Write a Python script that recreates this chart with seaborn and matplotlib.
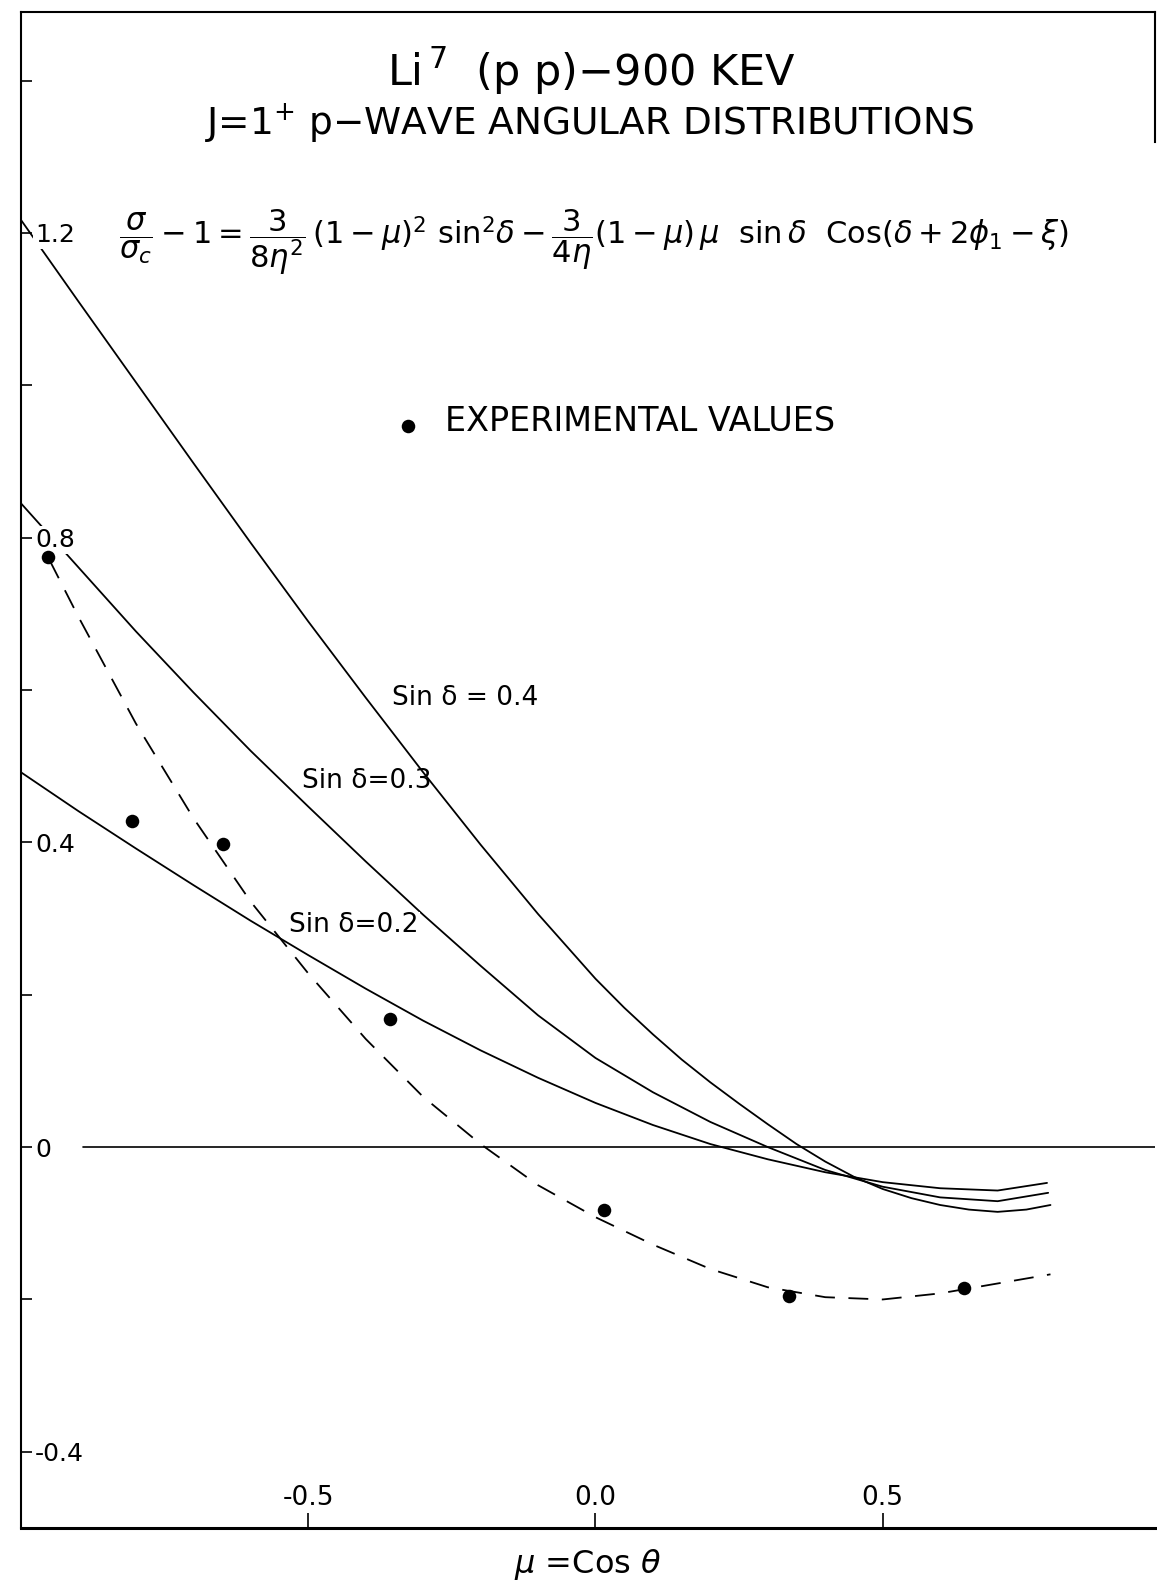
import matplotlib
matplotlib.use("Agg")
import matplotlib.pyplot as plt
import seaborn as sns

# --- calculated p-wave curves (mu = cos theta, sigma/sigma_c - 1) ---
mu_s04 = [-1.0, -0.9, -0.8, -0.7, -0.6, -0.5, -0.4, -0.3, -0.2, -0.1, 0.0,
          0.05, 0.1, 0.15, 0.2, 0.25, 0.3, 0.35, 0.4, 0.45, 0.5, 0.55, 0.6,
          0.65, 0.7, 0.75, 0.792]
val_s04 = [1.217, 1.110, 1.004, 0.898, 0.793, 0.690, 0.590, 0.492, 0.397,
           0.306, 0.221, 0.183, 0.148, 0.115, 0.085, 0.057, 0.030, 0.004,
           -0.019, -0.039, -0.055, -0.067, -0.076, -0.082, -0.085, -0.082,
           -0.076]

mu_s03 = [-1.0, -0.9, -0.8, -0.7, -0.6, -0.5, -0.4, -0.3, -0.2, -0.1, 0.0,
          0.1, 0.2, 0.3, 0.4, 0.5, 0.6, 0.7, 0.788]
val_s03 = [0.845, 0.761, 0.677, 0.597, 0.520, 0.447, 0.375, 0.305, 0.238,
           0.173, 0.117, 0.072, 0.033, 0.000, -0.030, -0.052, -0.066, -0.071,
           -0.060]

mu_s02 = [-1.0, -0.9, -0.8, -0.7, -0.6, -0.5, -0.4, -0.3, -0.2, -0.1, 0.0,
          0.1, 0.2, 0.3, 0.4, 0.5, 0.6, 0.7, 0.786]
val_s02 = [0.492, 0.441, 0.392, 0.344, 0.297, 0.252, 0.208, 0.166, 0.127,
           0.091, 0.058, 0.029, 0.004, -0.016, -0.033, -0.046, -0.054, -0.057,
           -0.047]

# --- smooth curve through the measurements (dashed) ---
mu_fit = [-0.95, -0.9, -0.8, -0.7, -0.6, -0.5, -0.4, -0.3, -0.2, -0.1, 0.0,
          0.1, 0.2, 0.3, 0.4, 0.5, 0.6, 0.7, 0.792]
val_fit = [0.770, 0.696, 0.556, 0.432, 0.322, 0.228, 0.142, 0.066, 0.004,
           -0.050, -0.092, -0.128, -0.160, -0.184, -0.197, -0.200, -0.192,
           -0.179, -0.167]

# --- experimental values ---
exp_mu = [-0.953, -0.807, -0.648, -0.358, 0.014, 0.337, 0.641]
exp_val = [0.774, 0.428, 0.398, 0.168, -0.083, -0.196, -0.185]

curve_labels = ["Sin δ = 0.4", "Sin δ=0.3", "Sin δ=0.2"]

x_ticks = [-0.5, 0.0, 0.5]
x_tick_labels = ["-0.5", "0.0", "0.5"]
y_ticks = [-0.4, -0.2, 0.0, 0.2, 0.4, 0.6, 0.8, 1.0, 1.2, 1.4]
y_tick_labels = ["-0.4", "", "0", "", "0.4", "", "0.8", "", "1.2", ""]

sns.set_style("white")
plt.rcParams["font.family"] = ["DejaVu Sans"]
plt.rcParams["mathtext.fontset"] = "dejavusans"

fig = plt.figure(figsize=(11.57, 15.80), dpi=100)
ax = fig.add_axes([0.01815, 0.0329, 0.98015, 0.95951])
ax.set_xlim(-1.0, 0.974)
ax.set_ylim(-0.5, 1.49)
ax.set_axisbelow(False)

ink = "black"
for mu, val in [(mu_s04, val_s04), (mu_s03, val_s03), (mu_s02, val_s02)]:
    sns.lineplot(x=mu, y=val, ax=ax, color=ink, lw=1.3, sort=False,
                 estimator=None, zorder=2)

sns.lineplot(x=mu_fit, y=val_fit, ax=ax, color=ink, lw=1.3, sort=False,
             estimator=None, linestyle=(0, (11, 7.5)), zorder=2)

sns.scatterplot(x=exp_mu, y=exp_val, ax=ax, color=ink, s=95, edgecolor=ink,
                linewidth=0, zorder=4)

ax.axhline(0.0, xmin=0.055, color=ink, lw=1.2, zorder=1.8)

# frame: right edge only shows near the top
for side, sp in ax.spines.items():
    sp.set_color(ink)
    sp.set_visible(True)
    sp.set_linewidth(2.2 if side == "bottom" else 1.5)
ax.spines["right"].set_bounds(1.32, 1.49)

ax.set_xticks(x_ticks)
ax.set_xticklabels(x_tick_labels)
ax.set_yticks(y_ticks)
ax.set_yticklabels(y_tick_labels)
ax.tick_params(axis="x", bottom=True, direction="in", length=11, width=1.2,
               pad=-31, labelsize=19, colors=ink)
ax.tick_params(axis="y", left=True, direction="in", length=8, width=1.2,
               pad=-10, labelsize=18, colors=ink)
for lab in ax.get_yticklabels():
    lab.set_horizontalalignment("left")
    lab.set_bbox(dict(facecolor="white", edgecolor="none", pad=1.5))

ax.set_xlabel(r"$\mu$ =Cos $\theta$", fontsize=23, labelpad=14, color=ink)
ax.set_ylabel("")

# headings
ax.text(-0.007, 1.412, r"Li$^{\,7}$  (p p)$-$900 KEV", ha="center", va="center",
        fontsize=31, color=ink)
ax.text(-0.01, 1.344, r"J=1$^{+}$ p$-$WAVE ANGULAR DISTRIBUTIONS",
        ha="center", va="center", fontsize=27, color=ink)
ax.text(-0.003, 1.188,
        r"$\dfrac{\sigma}{\sigma_c}-1=\dfrac{3}{8\eta^2}\,(1-\mu)^2\ \mathrm{sin}^2\delta"
        r"-\dfrac{3}{4\eta}(1-\mu)\,\mu\ \ \mathrm{sin}\,\delta\ \ \mathrm{Cos}(\delta+2\phi_1-\xi)$",
        ha="center", va="center", fontsize=22, color=ink)

# legend entry
ax.scatter([-0.326], [0.946], s=95, color=ink, linewidth=0, zorder=4)
ax.text(-0.262, 0.953, "EXPERIMENTAL VALUES", ha="left", va="center",
        fontsize=24, color=ink)

# curve annotations
ax.text(-0.354, 0.589, curve_labels[0], ha="left", va="center", fontsize=19, color=ink)
ax.text(-0.510, 0.480, curve_labels[1], ha="left", va="center", fontsize=19, color=ink)
ax.text(-0.533, 0.291, curve_labels[2], ha="left", va="center", fontsize=19, color=ink,
        bbox=dict(facecolor="white", edgecolor="none", pad=0.5))

fig.savefig("out.png", dpi=100, facecolor="white")
